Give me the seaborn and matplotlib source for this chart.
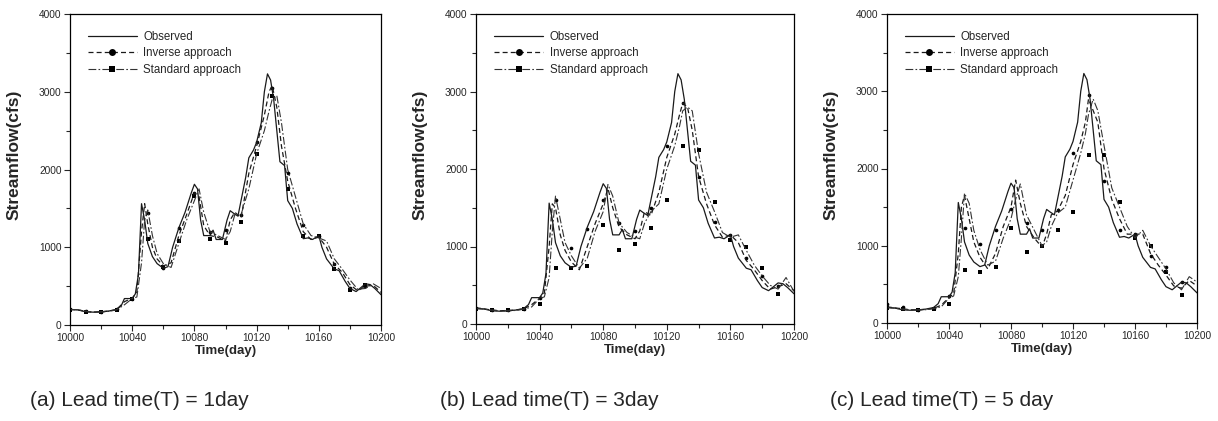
import matplotlib
matplotlib.use("Agg")
import matplotlib.pyplot as plt
from matplotlib.lines import Line2D
from matplotlib.ticker import MultipleLocator
import seaborn as sns
import pandas as pd

# ---------------- data ----------------
obs_days = [10000, 10005, 10010, 10015, 10020, 10025, 10030, 10033, 10035, 10040, 10042, 10044,
            10046, 10048, 10050, 10053, 10056, 10060, 10063, 10066, 10070, 10074, 10078, 10080,
            10082, 10084, 10086, 10090, 10092, 10094, 10098, 10101, 10103, 10105, 10108, 10110,
            10113, 10115, 10118, 10120, 10123, 10125, 10127, 10129, 10131, 10133, 10135, 10138,
            10140, 10143, 10146, 10150, 10153, 10156, 10160, 10162, 10165, 10170, 10173, 10177,
            10180, 10184, 10187, 10190, 10193, 10196, 10200]
observed = [200, 195, 170, 165, 170, 180, 200, 250, 340, 340, 400, 650,
            1560, 1350, 1050, 880, 790, 730, 750, 1000, 1250, 1450, 1700, 1810,
            1750, 1350, 1150, 1150, 1220, 1100, 1100, 1350, 1470, 1440, 1400, 1600,
            1900, 2150, 2250, 2350, 2600, 3000, 3230, 3150, 2900, 2500, 2100, 2050,
            1600, 1500, 1300, 1110, 1120, 1100, 1150, 1000, 850, 720, 700, 560,
            470, 430, 480, 530, 520, 470, 390]

pred_days = [10000, 10005, 10010, 10015, 10020, 10025, 10030, 10035, 10040, 10043, 10046, 10048,
             10050, 10053, 10056, 10060, 10065, 10070, 10075, 10080, 10083, 10086, 10090, 10095,
             10100, 10103, 10106, 10110, 10115, 10120, 10125, 10128, 10130, 10133, 10136, 10140,
             10145, 10150, 10155, 10160, 10165, 10170, 10175, 10180, 10185, 10190, 10195, 10200]

inverse_1 = [200, 195, 175, 165, 170, 178, 200, 300, 345, 420, 1200, 1560,
             1300, 1000, 850, 760, 800, 1150, 1420, 1700, 1650, 1280, 1150, 1130,
             1080, 1350, 1450, 1380, 1950, 2300, 2700, 3000, 3080, 2800, 2300, 1850,
             1500, 1200, 1100, 1130, 1000, 780, 680, 520, 440, 500, 510, 420]
standard_1 = [200, 195, 178, 165, 168, 175, 195, 260, 340, 360, 800, 1350,
              1480, 1150, 920, 790, 740, 1050, 1350, 1600, 1750, 1450, 1200, 1150,
              1100, 1200, 1420, 1420, 1750, 2200, 2500, 2750, 2900, 2950, 2600, 2000,
              1650, 1300, 1150, 1120, 1080, 850, 720, 580, 460, 470, 530, 470]

inverse_3 = [210, 195, 180, 170, 175, 180, 195, 250, 330, 400, 1000, 1550,
             1500, 1150, 950, 800, 700, 1000, 1300, 1550, 1750, 1500, 1250, 1150,
             1100, 1200, 1450, 1400, 1700, 2150, 2450, 2700, 2850, 2800, 2500, 1900,
             1550, 1280, 1120, 1150, 1050, 820, 700, 560, 450, 480, 520, 430]
standard_3 = [200, 190, 180, 170, 170, 175, 190, 220, 330, 350, 600, 1200,
              1650, 1350, 1050, 880, 720, 850, 1200, 1450, 1800, 1650, 1300, 1180,
              1120, 1100, 1300, 1450, 1550, 2000, 2300, 2550, 2750, 2800, 2750, 2200,
              1700, 1450, 1180, 1120, 1150, 950, 760, 620, 500, 450, 600, 420]

inverse_5 = [210, 195, 185, 170, 170, 175, 190, 230, 330, 380, 900, 1500,
             1650, 1350, 1050, 850, 700, 900, 1250, 1500, 1850, 1550, 1250, 1100,
             980, 1150, 1400, 1450, 1650, 2050, 2350, 2600, 2900, 2750, 2600, 2000,
             1600, 1350, 1150, 1150, 1150, 900, 750, 620, 480, 450, 550, 480]
standard_5 = [200, 190, 180, 170, 170, 172, 185, 210, 320, 350, 600, 1100,
              1680, 1550, 1200, 950, 750, 800, 1100, 1350, 1600, 1800, 1400, 1200,
              1000, 1050, 1250, 1420, 1500, 1850, 2200, 2450, 2700, 2900, 2750, 2300,
              1750, 1500, 1250, 1100, 1200, 1000, 850, 700, 520, 430, 600, 530]

mark_days = [10000, 10010, 10020, 10030, 10040, 10050, 10060, 10070, 10080, 10090,
             10100, 10110, 10120, 10130, 10140, 10150, 10160, 10170, 10180, 10190]
inv_marks_1 = [200, 175, 170, 200, 330, 1440, 730, 1250, 1700, 1200,
               1220, 1420, 2350, 3050, 1950, 1280, 1150, 780, 470, 500]
std_marks_1 = [195, 170, 170, 195, 340, 1100, 740, 1080, 1660, 1100,
               1060, 1320, 2200, 2950, 1750, 1150, 1150, 720, 450, 520]
inv_marks_3 = [210, 185, 180, 200, 330, 1600, 980, 1230, 1600, 1300,
               1200, 1500, 2300, 2850, 1900, 1320, 1150, 850, 620, 490]
std_marks_3 = [200, 175, 180, 190, 260, 720, 720, 750, 1280, 960,
               1030, 1240, 1600, 2300, 2250, 1580, 1080, 1000, 720, 390]
inv_marks_5 = [240, 210, 170, 190, 350, 1230, 1020, 1200, 1480, 1300,
               1200, 1460, 2200, 2950, 1840, 1200, 1150, 870, 720, 530]
std_marks_5 = [190, 180, 170, 180, 240, 690, 660, 730, 1230, 920,
               1000, 1200, 1440, 2180, 2180, 1560, 1100, 1000, 660, 360]

captions = ["(a) Lead time(T) = 1day", "(b) Lead time(T) = 3day", "(c) Lead time(T) = 5 day"]
legend_labels = ["Observed", "Inverse approach", "Standard approach"]
x_ticks = [10000, 10040, 10080, 10120, 10160, 10200]
y_ticks = [0, 1000, 2000, 3000, 4000]

panels = [
    (inverse_1, standard_1, inv_marks_1, std_marks_1),
    (inverse_3, standard_3, inv_marks_3, std_marks_3),
    (inverse_5, standard_5, inv_marks_5, std_marks_5),
]

# ---------------- style ----------------
sns.set_style("ticks")
plt.rcParams['font.family'] = ['Liberation Sans', 'DejaVu Sans']

fig = plt.figure(figsize=(12.18, 4.21), dpi=100)
W, H = 1218, 421
boxes = [(70, 14, 381, 325), (476, 14, 794, 324), (887, 14, 1197, 323)]
caption_x = [30, 440, 830]

line_col = "#1a1a1a"
obs_df = pd.DataFrame({"day": obs_days, "flow": observed})

for i, ((inv, std, imk, smk), (l, t, r, b)) in enumerate(zip(panels, boxes)):
    ax = fig.add_axes([l / W, 1 - b / H, (r - l) / W, (b - t) / H])
    pred_df = pd.DataFrame({"day": pred_days, "inv": inv, "std": std})
    mk_df = pd.DataFrame({"day": mark_days, "inv": imk, "std": smk})

    sns.lineplot(data=obs_df, x="day", y="flow", ax=ax, color=line_col, lw=0.9)
    sns.lineplot(data=pred_df, x="day", y="inv", ax=ax, color=line_col, lw=0.9,
                 linestyle=(0, (4, 2.5)))
    sns.lineplot(data=pred_df, x="day", y="std", ax=ax, color="#333333", lw=0.8,
                 linestyle=(0, (7, 2, 1.5, 2)))
    sns.scatterplot(data=mk_df, x="day", y="inv", ax=ax, color="black", marker="o",
                    s=7, linewidth=0)
    sns.scatterplot(data=mk_df, x="day", y="std", ax=ax, color="black", marker="s",
                    s=6, linewidth=0)

    ax.set_xlim(10000, 10200)
    ax.set_ylim(0, 4000)
    ax.set_xticks(x_ticks)
    ax.set_yticks(y_ticks)
    ax.xaxis.set_minor_locator(MultipleLocator(20))
    ax.yaxis.set_minor_locator(MultipleLocator(500))
    ax.tick_params(which="major", direction="out", length=4, width=0.8, labelsize=7.3, pad=2)
    ax.tick_params(which="minor", direction="out", length=3, width=0.8)
    for s in ax.spines.values():
        s.set_linewidth(0.9)
        s.set_color("black")
    ax.set_xlabel("Time(day)", fontsize=9.5, fontweight="bold", labelpad=1)
    ax.set_ylabel("Streamflow(cfs)", fontsize=12.5, fontweight="bold")
    ax.yaxis.set_label_coords(-48 / (r - l), (b - 155) / (b - t))

    handles = [
        Line2D([], [], color=line_col, lw=0.9),
        Line2D([], [], color=line_col, lw=0.9, linestyle=(0, (4, 2.5)), marker="o",
               markersize=5, markerfacecolor="black", markeredgewidth=0),
        Line2D([], [], color="#333333", lw=0.8, linestyle=(0, (7, 2, 1.5, 2)), marker="s",
               markersize=5, markerfacecolor="black", markeredgewidth=0),
    ]
    ax.legend(handles=handles, labels=legend_labels, loc="upper left",
              bbox_to_anchor=(0.025, 0.98), frameon=False, fontsize=8.3,
              handlelength=4.2, handletextpad=0.6, labelspacing=0.42, numpoints=1)

    fig.text(caption_x[i] / W, 1 - 401 / H, captions[i], ha="left", va="center",
             fontsize=15, family=["Liberation Sans Narrow", "Liberation Sans", "DejaVu Sans"])

fig.savefig("out.png", dpi=100)
